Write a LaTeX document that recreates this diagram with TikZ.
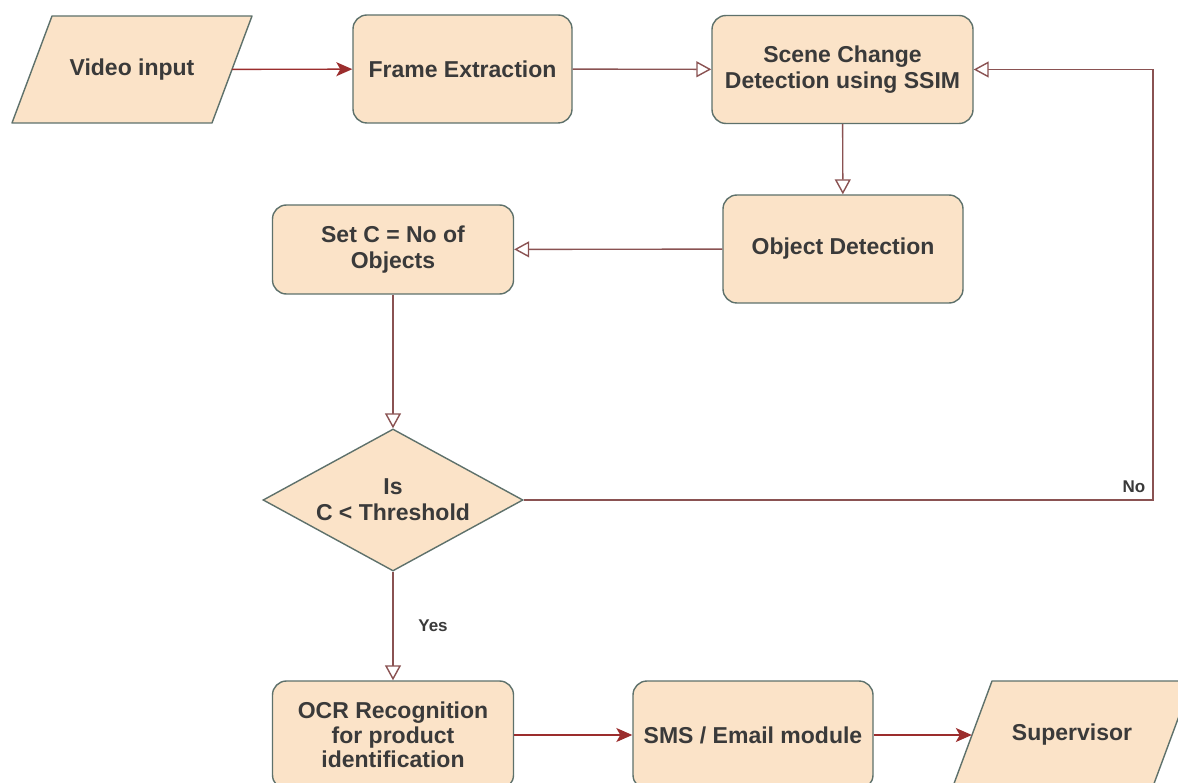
\documentclass[tikz,border=0pt]{standalone}
\usepackage{fontspec}
\setmainfont{Liberation Sans}
\usepackage{tikz}
\usetikzlibrary{positioning,arrows.meta,shapes.geometric}
\usepackage{xcolor}
\definecolor{boxfill}{HTML}{FBE3C8}
\definecolor{boxline}{HTML}{5E716B}
\definecolor{arrline}{HTML}{8A5252}
\definecolor{arrred}{HTML}{9B2D2D}
\definecolor{txtgray}{HTML}{3A3A3A}

\begin{document}
\begin{tikzpicture}[x=1pt,y=-1pt,
  every node/.style={font=\fontsize{23}{26}\selectfont\bfseries,text=txtgray},
  procbox/.style={draw=boxline,fill=boxfill,line width=1.4pt,rounded corners=14pt,minimum height=108pt,align=center,inner sep=2pt},
  ioshape/.style={draw=boxline,fill=boxfill,line width=1.4pt,line join=round},
  iotext/.style={minimum width=200pt,minimum height=107pt,inner sep=0pt},
  decbox/.style={draw=boxline,fill=boxfill,line width=1.4pt,diamond,aspect=1.83,minimum width=260pt,minimum height=142pt,inner sep=0pt,align=center},
  openarr/.style={draw=arrline,line width=1.4pt,-{Triangle[open,length=15pt,width=16pt,fill=white]}},
  fillarr/.style={draw=arrred,line width=1.4pt,-{Stealth[length=16pt,width=14pt,inset=4pt]}},
  lbl/.style={font=\fontsize{17}{20}\selectfont\bfseries}]
\useasboundingbox (0,0) rectangle (1178,783);
\fill[white] (0,0) rectangle (1178,783);
\filldraw[ioshape] (52,16) -- (252,16) -- (212,123) -- (12,123) -- cycle;
\filldraw[ioshape] (992,681) -- (1192,681) -- (1152,789) -- (952,789) -- cycle;
\node[iotext] (video) at (132,69.5) {Video input};
\node[procbox,minimum width=219pt] (frame) at (462.5,69) {Frame Extraction};
\node[procbox,minimum width=261pt] (scene) at (842.5,69.5) {Scene Change\\Detection using SSIM};
\node[procbox,minimum width=240pt] (object) at (843,249) {Object Detection};
\node[procbox,minimum width=241pt,minimum height=89pt] (setc) at (393,249.5) {Set C = No of\\Objects};
\node[decbox] (dec) at (393,500) {Is\\C < Threshold};
\node[procbox,minimum width=241pt,font=\fontsize{23}{24.5}\selectfont\bfseries] (ocr) at (393,735) {OCR Recognition\\for product\\identification};
\node[procbox,minimum width=240pt] (sms) at (753,735) {SMS / Email module};
\node[iotext] (sup) at (1072,735) {Supervisor};
\coordinate (turn) at (1153,500);
\node[lbl] (nolbl) at (1134,487) {No};
\node[lbl] (yeslbl) at (433,626) {Yes};
\draw[fillarr] (video) -- (frame);
\draw[openarr] (frame) -- (scene);
\draw[openarr] (scene) -- (object);
\draw[openarr] (object) -- (setc);
\draw[openarr] (setc) -- (dec);
\draw[openarr] (dec) -- (ocr);
\draw[openarr] (dec.east) -- (turn) |- (scene.east);
\draw[fillarr] (ocr) -- (sms);
\draw[fillarr] (sms) -- (sup);
\end{tikzpicture}
\end{document}
